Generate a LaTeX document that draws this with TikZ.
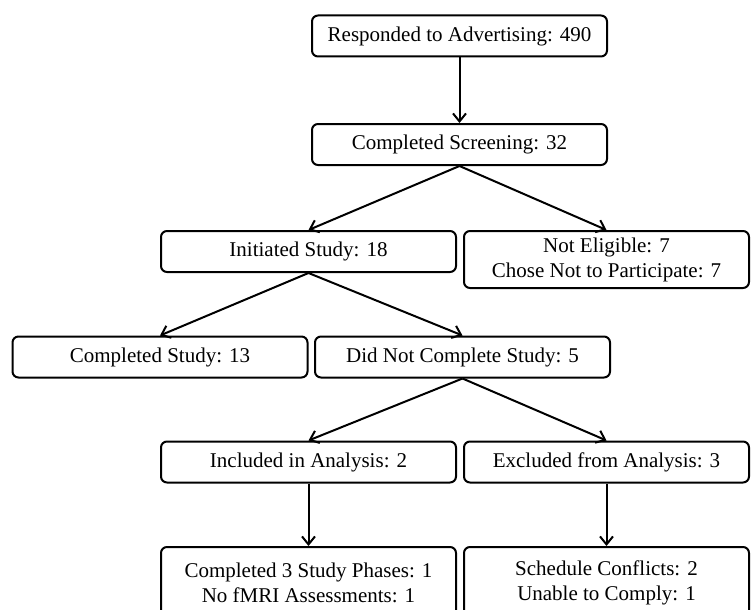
\documentclass[tikz,border=0pt]{standalone}
\usepackage{fontspec}
\setmainfont{Liberation Serif}
\usetikzlibrary{arrows.meta}

\tikzset{
    stagebox/.style={draw, line width=2pt, rounded corners=6pt, align=center,
        inner sep=2pt, font=\fontsize{21}{25}\selectfont},
    flow/.style={line width=2pt, -{Straight Barb[length=8pt, width=13pt, line width=2pt]}}
}

\begin{document}
\begin{tikzpicture}[x=1pt, y=-1pt]

        % page frame
        \useasboundingbox (0,0) rectangle (752,610);

        % box sizes
        \def\wide{295}
        \def\narrow{285}
        \def\single{41}
        \def\double{57}

        % screening stages
        \node[stagebox, minimum width=\wide, minimum height=\single] (advert) at (459.5,36) {Responded to Advertising: 490};
        \node[stagebox, minimum width=\wide, minimum height=\single] (screen) at (459.5,144.5) {Completed Screening: 32};

        % study entry
        \node[stagebox, minimum width=\wide, minimum height=\single] (initiated) at (308.5,251.5) {Initiated Study: 18};
        \node[stagebox, minimum width=\narrow, minimum height=\double] (noteligible) at (606.5,259.5) {Not Eligible: 7\\Chose Not to Participate: 7};

        % study completion
        \node[stagebox, minimum width=\wide, minimum height=\single] (completed) at (160,357) {Completed Study: 13};
        \node[stagebox, minimum width=\wide, minimum height=\single] (dropped) at (462.5,357) {Did Not Complete Study: 5};

        % analysis
        \node[stagebox, minimum width=\wide, minimum height=\single] (included) at (308.5,462) {Included in Analysis: 2};
        \node[stagebox, minimum width=\narrow, minimum height=\single] (excluded) at (606.5,462) {Excluded from Analysis: 3};

        % reasons (cut by the page edge)
        \node[stagebox, minimum width=\wide, minimum height=72] (phases) at (308.5,583) {Completed 3 Study Phases: 1\\No fMRI Assessments: 1};
        \node[stagebox, minimum width=\narrow, minimum height=72] (conflicts) at (606.5,583) {Schedule Conflicts: 2\\Unable to Comply: 1};

        % connectors
        \draw[flow] (advert.south) -- (screen.north);
        \draw[flow] (screen.south) -- (initiated.north);
        \draw[flow] (screen.south) -- (noteligible.north);
        \draw[flow] (initiated.south) -- (completed.north);
        \draw[flow] (initiated.south) -- (dropped.north);
        \draw[flow] (dropped.south) -- (included.north);
        \draw[flow] (dropped.south) -- (excluded.north);
        \draw[flow] (included.south) -- (phases.north);
        \draw[flow] (excluded.south) -- (conflicts.north);

    \end{tikzpicture}
\end{document}
